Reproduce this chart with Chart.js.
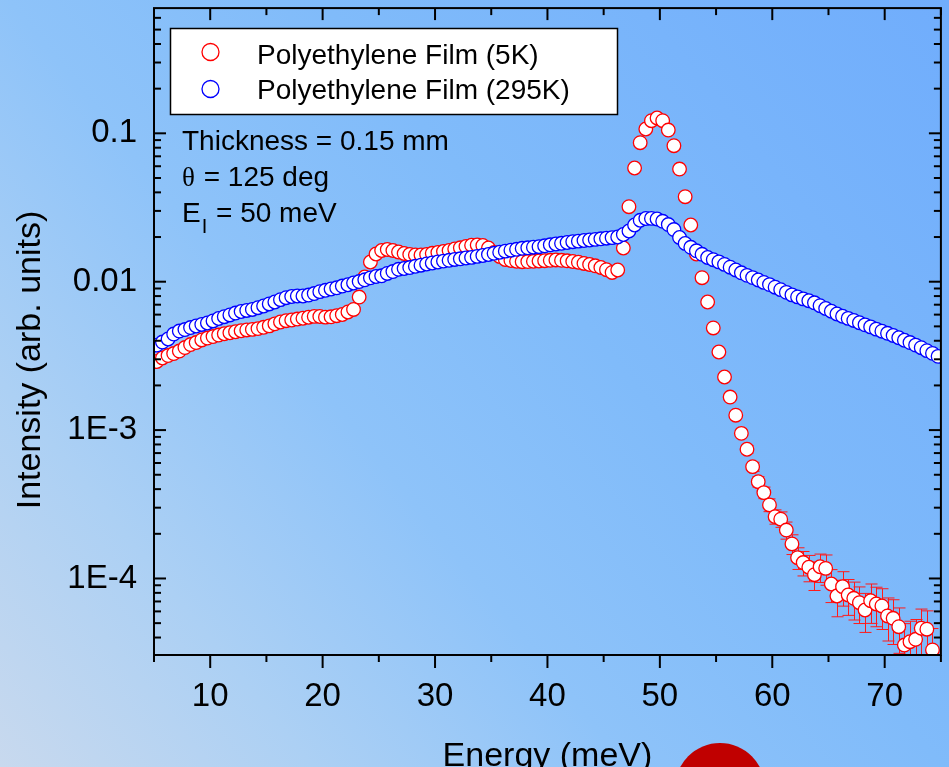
<!DOCTYPE html>
<html>
<head>
<meta charset="utf-8">
<script src="https://cdn.jsdelivr.net/npm/chart.js@4.4.1/dist/chart.umd.min.js"></script>
<style>
  html, body { margin: 0; padding: 0; background: #9ccaf5; }
  canvas { display: block; }
</style>
</head>
<body>
<canvas id="chart" width="949" height="767"></canvas>
<script>
// energy transfer (meV) - same grid for both runs
const energy = [
  5.25, 5.75, 6.25, 6.75, 7.25, 7.75, 8.25, 8.75, 9.25, 9.75,
  10.25, 10.75, 11.25, 11.75, 12.25, 12.75, 13.25, 13.75, 14.25, 14.75,
  15.25, 15.75, 16.25, 16.75, 17.25, 17.75, 18.25, 18.75, 19.25, 19.75,
  20.25, 20.75, 21.25, 21.75, 22.25, 22.75, 23.25, 23.75, 24.25, 24.75,
  25.25, 25.75, 26.25, 26.75, 27.25, 27.75, 28.25, 28.75, 29.25, 29.75,
  30.25, 30.75, 31.25, 31.75, 32.25, 32.75, 33.25, 33.75, 34.25, 34.75,
  35.25, 35.75, 36.25, 36.75, 37.25, 37.75, 38.25, 38.75, 39.25, 39.75,
  40.25, 40.75, 41.25, 41.75, 42.25, 42.75, 43.25, 43.75, 44.25, 44.75,
  45.25, 45.75, 46.25, 46.75, 47.25, 47.75, 48.25, 48.75, 49.25, 49.75,
  50.25, 50.75, 51.25, 51.75, 52.25, 52.75, 53.25, 53.75, 54.25, 54.75,
  55.25, 55.75, 56.25, 56.75, 57.25, 57.75, 58.25, 58.75, 59.25, 59.75,
  60.25, 60.75, 61.25, 61.75, 62.25, 62.75, 63.25, 63.75, 64.25, 64.75,
  65.25, 65.75, 66.25, 66.75, 67.25, 67.75, 68.25, 68.75, 69.25, 69.75,
  70.25, 70.75, 71.25, 71.75, 72.25, 72.75, 73.25, 73.75, 74.25, 74.75
];

// Polyethylene Film (5K)
const film5K = [
  0.00290, 0.00306, 0.00318, 0.00328, 0.00341, 0.00360, 0.00377, 0.00389, 0.00405, 0.00417,
  0.00427, 0.00437, 0.00446, 0.00453, 0.00460, 0.00467, 0.00473, 0.00477, 0.00483, 0.00493,
  0.00504, 0.00520, 0.00535, 0.00546, 0.00552, 0.00560, 0.00567, 0.00576, 0.00584, 0.00583,
  0.00577, 0.00580, 0.00590, 0.00601, 0.00625, 0.00650, 0.00788, 0.01076, 0.01358, 0.01537,
  0.01623, 0.01648, 0.01623, 0.01586, 0.01549, 0.01525, 0.01513, 0.01513, 0.01525, 0.01554,
  0.01573, 0.01598, 0.01623, 0.01661, 0.01692, 0.01727, 0.01760, 0.01768, 0.01754, 0.01687,
  0.01573, 0.01478, 0.01411, 0.01390, 0.01374, 0.01364, 0.01366, 0.01373, 0.01379, 0.01385,
  0.01394, 0.01401, 0.01394, 0.01383, 0.01368, 0.01352, 0.01327, 0.01306, 0.01280, 0.01247,
  0.01205, 0.01154, 0.01199, 0.01687, 0.03202, 0.05836, 0.08642, 0.1069, 0.1216, 0.1268,
  0.1216, 0.1052, 0.08251, 0.05745, 0.03739, 0.02410, 0.01537, 0.01064, 0.00730, 0.00488,
  0.00336, 0.00228, 0.00167, 0.00126, 0.000951, 0.000743, 0.000567, 0.000449, 0.000379, 0.000313,
  0.000261, 0.000251, 0.000212, 0.000171, 0.000138, 0.000128, 0.000119, 0.000106, 0.000120, 0.000117,
  0.0000918, 0.0000762, 0.0000881, 0.0000774, 0.0000735, 0.0000687, 0.0000613, 0.0000708, 0.0000673, 0.0000653,
  0.0000559, 0.0000539, 0.0000473, 0.0000356, 0.0000375, 0.0000389, 0.0000462, 0.0000455, 0.0000330, null
];

// error on the 5K run (only visible in the tail)
const film5KErr = [
  0, 0, 0, 0, 0, 0, 0, 0, 0, 0,
  0, 0, 0, 0, 0, 0, 0, 0, 0, 0,
  0, 0, 0, 0, 0, 0, 0, 0, 0, 0,
  0, 0, 0, 0, 0, 0, 0, 0, 0, 0,
  0, 0, 0, 0, 0, 0, 0, 0, 0, 0,
  0, 0, 0, 0, 0, 0, 0, 0, 0, 0,
  0, 0, 0, 0, 0, 0, 0, 0, 0, 0,
  0, 0, 0, 0, 0, 0, 0, 0, 0, 0,
  0, 0, 0, 0, 0, 0, 0, 0, 0, 0,
  0, 0, 0, 0, 0, 0, 0, 0, 0, 0,
  0, 0, 0, 0, 0.000048, 0.000045, 0.000040, 0.000036, 0.000034, 0.000031,
  0.000029, 0.000030, 0.000028, 0.000026, 0.000023, 0.000024, 0.000024, 0.000023, 0.000026, 0.000027,
  0.000023, 0.000021, 0.000023, 0.000021, 0.000021, 0.000019, 0.000018, 0.000021, 0.000020, 0.000020,
  0.000018, 0.000018, 0.000016, 0.000014, 0.000014, 0.000014, 0.000016, 0.000015, 0.000013, 0
];

// Polyethylene Film (295K)
const film295K = [
  0.00374, 0.00392, 0.00411, 0.00444, 0.00465, 0.00476, 0.00491, 0.00503, 0.00515, 0.00527,
  0.00544, 0.00565, 0.00581, 0.00597, 0.00615, 0.00630, 0.00640, 0.00650, 0.00668, 0.00686,
  0.00708, 0.00730, 0.00757, 0.00780, 0.00795, 0.00801, 0.00801, 0.00813, 0.00832, 0.00857,
  0.00875, 0.00893, 0.00910, 0.00935, 0.00954, 0.00980, 0.01002, 0.01030, 0.01062, 0.01084,
  0.01096, 0.01137, 0.01171, 0.01212, 0.01227, 0.01246, 0.01270, 0.01292, 0.01316, 0.01337,
  0.01358, 0.01377, 0.01394, 0.01412, 0.01427, 0.01445, 0.01458, 0.01481, 0.01502, 0.01525,
  0.01554, 0.01580, 0.01607, 0.01630, 0.01653, 0.01679, 0.01692, 0.01708, 0.01721, 0.01745,
  0.01773, 0.01795, 0.01815, 0.01837, 0.01860, 0.01877, 0.01895, 0.01910, 0.01928, 0.01946,
  0.01964, 0.01982, 0.02001, 0.02080, 0.02196, 0.02410, 0.02594, 0.02667, 0.02671, 0.02646,
  0.02553, 0.02428, 0.02247, 0.01985, 0.01809, 0.01705, 0.01615, 0.01530, 0.01456, 0.01407,
  0.01360, 0.01308, 0.01252, 0.01199, 0.01148, 0.01104, 0.01066, 0.01027, 0.00989, 0.00956,
  0.00918, 0.00884, 0.00848, 0.00815, 0.00790, 0.00766, 0.00744, 0.00721, 0.00689, 0.00660,
  0.00632, 0.00606, 0.00585, 0.00566, 0.00548, 0.00529, 0.00512, 0.00496, 0.00479, 0.00464,
  0.00449, 0.00434, 0.00419, 0.00403, 0.00389, 0.00374, 0.00359, 0.00343, 0.00329, 0.00314
];

// axes
const xTicks = [10, 20, 30, 40, 50, 60, 70];
const xMinorTicks = [5, 15, 25, 35, 45, 55, 65, 75];
const yTicks = [1e-4, 1e-3, 0.01, 0.1];
const yTickLabels = ['1E-4', '1E-3', '0.01', '0.1'];
const yMinorMult = [2, 3, 4, 5, 6, 7, 8, 9];
const yDecades = [1e-5, 1e-4, 1e-3, 1e-2, 1e-1];

const notes = ['Thickness = 0.15 mm', '125 deg', '50 meV'];

const FONT = "'Liberation Sans', Arial, sans-serif";

function toPoints(ys) {
  return energy.map((x, i) => ({ x: x, y: ys[i] }));
}

// gradient background behind everything
const bgPlugin = {
  id: 'bg',
  beforeDraw(chart) {
    const { ctx, width, height } = chart;
    const g = ctx.createLinearGradient(0, height, width, 0);
    g.addColorStop(0, '#c8d9ee');
    g.addColorStop(0.2, '#acd0f4');
    g.addColorStop(0.4, '#8ec3f9');
    g.addColorStop(0.6, '#80bbfa');
    g.addColorStop(1, '#70adfc');
    ctx.save();
    ctx.fillStyle = g;
    ctx.fillRect(0, 0, width, height);
    // red dot under the x title
    ctx.fillStyle = '#c00000';
    ctx.beginPath();
    ctx.arc(720, 788, 45, 0, Math.PI * 2);
    ctx.fill();
    ctx.restore();
  }
};

// vertical error bars for the 5K run, behind the markers
const errorBars = {
  id: 'errorBars',
  beforeDatasetsDraw(chart) {
    const { ctx, chartArea: a } = chart;
    const xs = chart.scales.x, ys = chart.scales.y;
    ctx.save();
    ctx.beginPath();
    ctx.rect(a.left, a.top, a.right - a.left, a.bottom - a.top);
    ctx.clip();
    ctx.strokeStyle = '#ff1a1a';
    ctx.lineWidth = 1;
    film5KErr.forEach((e, i) => {
      const v = film5K[i];
      if (!e || v == null) return;
      const px = Math.round(xs.getPixelForValue(energy[i])) + 0.5;
      const hi = ys.getPixelForValue(v + e);
      const lo = v - e > 0 ? ys.getPixelForValue(v - e) : a.bottom + 20;
      ctx.beginPath();
      ctx.moveTo(px, hi); ctx.lineTo(px, lo);
      ctx.moveTo(px - 6, hi); ctx.lineTo(px + 6, hi);
      ctx.moveTo(px - 6, lo); ctx.lineTo(px + 6, lo);
      ctx.stroke();
    });
    ctx.restore();
  }
};

// frame, inward/outward ticks, legend, notes and axis titles
const decor = {
  id: 'decor',
  afterDraw(chart) {
    const { ctx, chartArea: a } = chart;
    const xs = chart.scales.x, ys = chart.scales.y;
    ctx.save();
    ctx.strokeStyle = '#000';
    ctx.lineWidth = 2;
    ctx.strokeRect(a.left, a.top, a.right - a.left, a.bottom - a.top);

    const seg = (x1, y1, x2, y2) => { ctx.beginPath(); ctx.moveTo(x1, y1); ctx.lineTo(x2, y2); ctx.stroke(); };
    xTicks.forEach(v => {
      const p = xs.getPixelForValue(v);
      seg(p, a.bottom, p, a.bottom + 13);
      seg(p, a.top, p, a.top + 12);
    });
    xMinorTicks.forEach(v => {
      const p = xs.getPixelForValue(v);
      seg(p, a.bottom, p, a.bottom + 7);
      seg(p, a.top, p, a.top + 7);
    });
    yTicks.forEach(v => {
      const p = ys.getPixelForValue(v);
      seg(a.left, p, a.left + 12, p);
      seg(a.right, p, a.right - 12, p);
    });
    yDecades.forEach(d => yMinorMult.forEach(m => {
      const v = d * m;
      if (v < ys.min || v > ys.max) return;
      const p = ys.getPixelForValue(v);
      seg(a.left, p, a.left + 7, p);
      seg(a.right, p, a.right - 7, p);
    }));

    // legend
    ctx.lineWidth = 1.5;
    ctx.fillStyle = '#fff';
    ctx.fillRect(170.5, 28.5, 447, 86);
    ctx.strokeRect(170.5, 28.5, 447, 86);
    ctx.font = '28px ' + FONT;
    ctx.textBaseline = 'alphabetic';
    ctx.textAlign = 'left';
    chart.data.datasets.forEach((ds, i) => {
      const cy = 52 + i * 37;
      ctx.beginPath();
      ctx.arc(210.5, cy, 8.5, 0, Math.PI * 2);
      ctx.fillStyle = '#fff';
      ctx.fill();
      ctx.strokeStyle = ds.borderColor;
      ctx.lineWidth = 1.3;
      ctx.stroke();
      ctx.fillStyle = '#000';
      ctx.fillText(ds.label, 257, 64 + i * 35);
    });

    // notes
    ctx.fillStyle = '#000';
    ctx.font = '28px ' + FONT;
    ctx.fillText(notes[0], 182, 150);
    ctx.font = '27px "Liberation Serif", "Times New Roman", serif';
    ctx.fillText('\u03B8', 182, 186);
    let w = ctx.measureText('\u03B8').width;
    ctx.font = '28px ' + FONT;
    ctx.fillText(' = ' + notes[1], 182 + w + 1, 186);
    ctx.fillText('E', 182, 222);
    w = ctx.measureText('E').width;
    ctx.font = '20px ' + FONT;
    ctx.fillText('I', 182 + w + 1, 233);
    const w2 = ctx.measureText('I').width;
    ctx.font = '28px ' + FONT;
    ctx.fillText(' = ' + notes[2], 182 + w + w2 + 2, 222);

    // axis titles
    ctx.font = '34px ' + FONT;
    ctx.textAlign = 'center';
    ctx.fillText('Energy (meV)', (a.left + a.right) / 2, 766);
    ctx.translate(40, 360);
    ctx.rotate(-Math.PI / 2);
    ctx.fillText('Intensity (arb. units)', 0, 0);
    ctx.restore();
  }
};

new Chart(document.getElementById('chart'), {
  type: 'scatter',
  data: {
    datasets: [
      {
        label: 'Polyethylene Film (5K)',
        data: toPoints(film5K),
        borderColor: '#ff0000',
        backgroundColor: '#ffffff',
        pointRadius: 6.8,
        borderWidth: 1.3,
        order: 1,
        clip: 0
      },
      {
        label: 'Polyethylene Film (295K)',
        data: toPoints(film295K),
        borderColor: '#0000ff',
        backgroundColor: '#ffffff',
        pointRadius: 6.8,
        borderWidth: 1.3,
        order: 0,
        clip: 0
      }
    ]
  },
  options: {
    responsive: false,
    animation: false,
    devicePixelRatio: 1,
    events: [],
    layout: { padding: { top: 8, right: 7, left: 0, bottom: 0 } },
    plugins: { legend: { display: false }, tooltip: { enabled: false } },
    scales: {
      x: {
        type: 'linear',
        min: 5,
        max: 75,
        grid: { display: false, drawTicks: false },
        border: { display: false },
        afterBuildTicks: s => { s.ticks = xTicks.map(v => ({ value: v })); },
        afterFit: s => { s.height = 112; s.paddingLeft = 0; s.paddingRight = 0; },
        ticks: { padding: 22, color: '#000', font: { family: FONT, size: 33 }, maxRotation: 0 }
      },
      y: {
        type: 'logarithmic',
        min: 3.05e-5,
        max: 0.698,
        grid: { display: false, drawTicks: false },
        border: { display: false },
        afterBuildTicks: s => { s.ticks = yTicks.map(v => ({ value: v })); },
        afterFit: s => { s.width = 154; s.paddingTop = 0; s.paddingBottom = 0; },
        ticks: {
          padding: 17,
          color: '#000',
          font: { family: FONT, size: 33 },
          callback: v => {
            const i = yTicks.findIndex(t => Math.abs(t - v) / t < 1e-6);
            return i >= 0 ? yTickLabels[i] : '';
          }
        }
      }
    }
  },
  plugins: [bgPlugin, errorBars, decor]
});
</script>
</body>
</html>
